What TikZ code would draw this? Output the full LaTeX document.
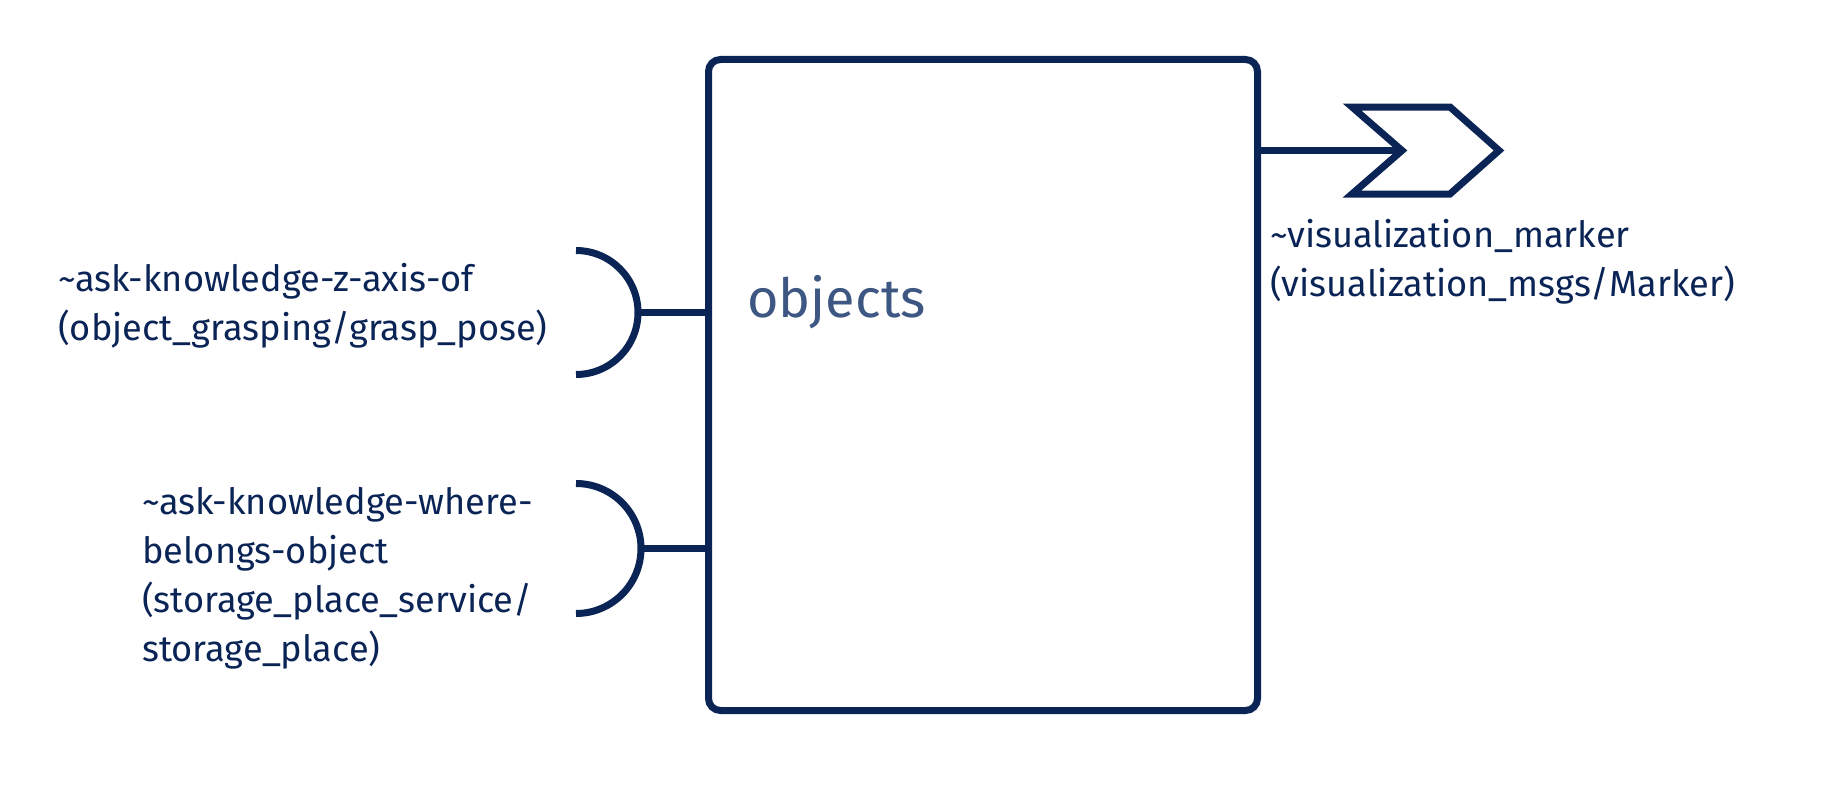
\documentclass[tikz,border=0pt]{standalone}
\usepackage{fontspec}
\setmainfont{Fira Sans}
\usetikzlibrary{calc}
\definecolor{navy}{HTML}{0B2456}
\definecolor{slate}{HTML}{3E5782}
\begin{document}
\begin{tikzpicture}[x=1pt,y=-1pt,
  wire/.style={draw=navy,line width=7pt},
  lbl/.style={anchor=base west,align=left,inner sep=0pt,text=navy,font=\fontsize{36.2}{49}\selectfont}]
\useasboundingbox (0,0) rectangle (1829,808);
% component box
\node[draw=navy,line width=7pt,rounded corners=12pt,minimum width=549pt,minimum height=651pt,inner sep=0pt,anchor=north west] (box) at (705,56) {};
\node[anchor=base west,inner sep=0pt,text=slate,font=\fontsize{54}{60}\selectfont] (title) at (747,317) {objects};
% service 1
\coordinate (s1) at (576,312.5);
\coordinate (s1r) at (638,312.5);
\draw[wire] ($(s1)+(0,-62)$) arc[start angle=-90,end angle=90,radius=62];
\draw[wire] (s1r) -- (s1r -| box.west);
\node[lbl] (l1) at (58,340) {\textasciitilde ask-knowledge-z-axis-of\\(object\_grasping/grasp\_pose)};
% service 2
\coordinate (s2) at (576,548.5);
\coordinate (s2r) at (641,548.5);
\draw[wire] ($(s2)+(0,-65)$) arc[start angle=-90,end angle=90,radius=65];
\draw[wire] (s2r) -- (s2r -| box.west);
\node[lbl] (l2) at (142,661) {\textasciitilde ask-knowledge-where-\\belongs-object\\(storage\_place\_service/\\storage\_place)};
% publisher
\coordinate (p) at (1254,150.5);
\coordinate (notch) at (1402,150.5);
\draw[wire] (p) -- (notch);
\draw[wire,line join=miter] (1352,107) -- (1450,107) -- (1499,150.5) -- (1450,194) -- (1352,194) -- (notch) -- cycle;
\node[lbl] (l3) at (1270,296) {\textasciitilde visualization\_marker\\(visualization\_msgs/Marker)};
\end{tikzpicture}
\end{document}
